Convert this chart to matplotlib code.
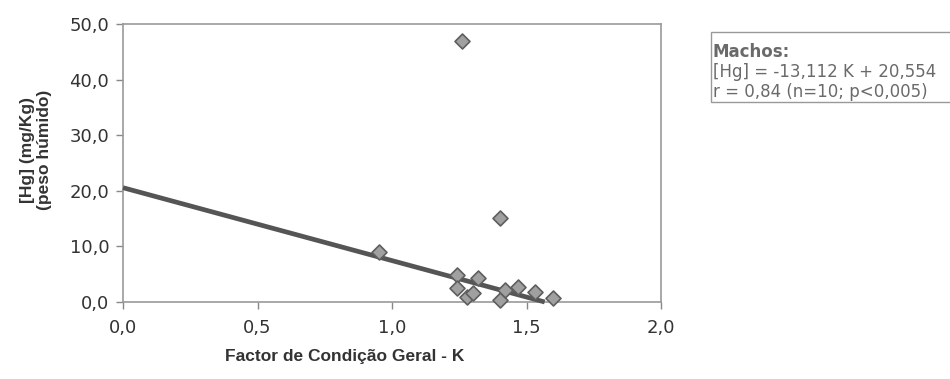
import numpy as np
import matplotlib
matplotlib.use("Agg")
import matplotlib.pyplot as plt
from matplotlib.patches import Rectangle

plt.rcParams['font.family'] = ['Liberation Sans', 'DejaVu Sans']

# Condition factor K and mercury concentration (males)
k_values = [1.26, 1.40, 0.95, 1.24, 1.24, 1.28, 1.32, 1.30, 1.40, 1.42, 1.47, 1.53, 1.60]
hg_values = [46.9, 15.1, 9.0, 4.9, 2.5, 0.9, 4.3, 1.6, 0.4, 2.2, 2.7, 1.8, 0.7]

slope = -13.112
intercept = 20.554

x_ticks = [0.0, 0.5, 1.0, 1.5, 2.0]
y_ticks = [0.0, 10.0, 20.0, 30.0, 40.0, 50.0]

fig = plt.figure(figsize=(9.5, 3.79), dpi=100)
ax = fig.add_axes([0.1295, 0.2032, 0.5663, 0.7335])

ax.set_xlim(0, 2.0)
ax.set_ylim(0, 50)

# Fitted regression line from K=0 to where it reaches zero
x_fit = np.array([0.0, -intercept / slope])
ax.plot(x_fit, slope * x_fit + intercept, color='#555555', lw=3.4,
        solid_capstyle='butt', zorder=3, clip_on=False)

ax.scatter(k_values, hg_values, marker='D', s=58, facecolor='#a0a0a0',
           edgecolor='#5e5e5e', linewidths=1.2, zorder=4, clip_on=False)

ax.set_xticks(x_ticks)
ax.set_yticks(y_ticks)
ax.set_xticklabels([f"{v:.1f}".replace('.', ',') for v in x_ticks])
ax.set_yticklabels([f"{v:.1f}".replace('.', ',') for v in y_ticks])
ax.tick_params(axis='both', direction='out', length=5, width=1, color='#888888',
               labelsize=13, labelcolor='#333333')
for lbl in ax.get_xticklabels() + ax.get_yticklabels():
    lbl.set_family('DejaVu Sans')
ax.tick_params(axis='x', pad=7)
ax.tick_params(axis='y', pad=5)

for s in ax.spines.values():
    s.set_color('#999999')
    s.set_linewidth(1.2)

fig.text(345 / 950, 1 - 356 / 379, 'Factor de Condição Geral - K', fontsize=12.5,
         fontweight='bold', color='#333333', ha='center', va='center')

fig.text(36 / 950, 1 - 150 / 379, '[Hg] (mg/Kg)\n(peso húmido)', fontsize=12.5,
         fontweight='bold', color='#333333', rotation=90, ha='center', va='center',
         multialignment='center', linespacing=1.15)

# Equation box
box = Rectangle((711 / 950, 1 - 102 / 379), 0.26, 70 / 379, transform=fig.transFigure,
                facecolor='white', edgecolor='#999999', lw=1.0)
fig.add_artist(box)
eq_font = dict(family='DejaVu Sans', fontsize=12, color='#6a6a6a', va='center', ha='left')
fig.text(713 / 950, 1 - 52 / 379, 'Machos:', fontweight='bold', **eq_font)
fig.text(713 / 950, 1 - 72 / 379, '[Hg] = -13,112 K + 20,554', **eq_font)
fig.text(713 / 950, 1 - 92 / 379, 'r = 0,84 (n=10; p<0,005)', **eq_font)

fig.savefig('out.png', dpi=100)
